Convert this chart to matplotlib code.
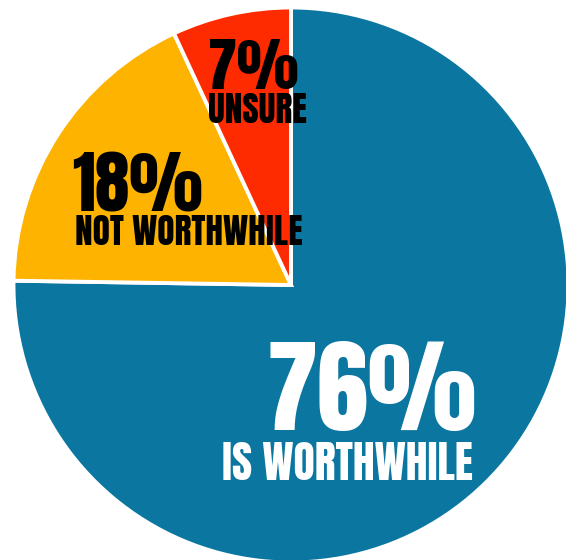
#!/usr/bin/env python3
import matplotlib
matplotlib.use('Agg')
from matplotlib import pyplot as plt

### data
labels = ['IS WORTHWHILE', 'NOT WORTHWHILE', 'UNSURE']
values = [76, 18, 7]
colors = ['#0b77a1', '#fdb300', '#ff2b00']
text_colors = ['white', 'black', 'black']

### layout (pixels in the 566x560 figure)
W, H = 566, 560
CX, CY, R = 291, 285, 277.5
FONT = ['Anton SC', 'Oswald', 'DejaVu Sans']

# (pct x, pct y, pct size, name x, name y, name size, align)
label_pos = [
    (477, 430, 74, 473, 480, 31.5, 'right'),
    (72, 212, 50, 75, 245, 25.5, 'left'),
    (208, 89, 42, 208, 123, 25.5, 'left'),
]


def px_to_data(x, y):
    """ pixel (from top-left) to pie data coords """
    return (x - CX) / R, (CY - y) / R


def main():
    fig = plt.figure(figsize=(W / 100, H / 100), dpi=100)
    ax = fig.add_axes([(CX - R) / W, (H - CY - R) / H, 2 * R / W, 2 * R / H])
    ax.pie(values, colors=colors, startangle=90, counterclock=False, radius=1,
           wedgeprops={'edgecolor': 'white', 'linewidth': 2.8})
    ax.set_xlim(-1, 1)
    ax.set_ylim(-1, 1)
    ax.set_aspect('auto')
    ax.axis('off')

    for val, name, col, pos in zip(values, labels, text_colors, label_pos):
        px, py, ps, nx, ny, ns, ha = pos
        x, y = px_to_data(px, py)
        ax.text(x, y, f'{val}%', color=col, fontsize=ps,
                family=FONT, ha=ha, va='baseline', clip_on=False)
        x, y = px_to_data(nx, ny)
        ax.text(x, y, name, color=col, fontsize=ns,
                family=FONT, ha=ha, va='baseline', clip_on=False)

    fig.savefig('out.png', dpi=100, facecolor='white')


if __name__ == '__main__':
    main()
